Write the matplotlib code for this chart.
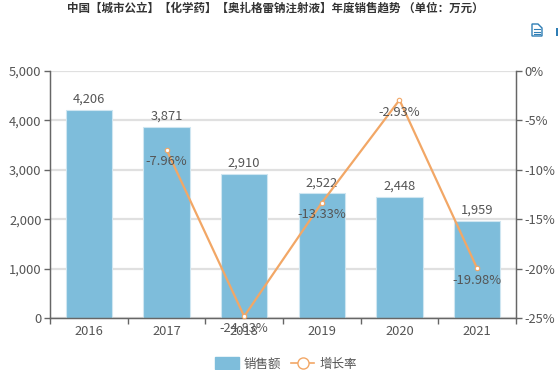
import matplotlib
matplotlib.use('Agg')
import matplotlib.pyplot as plt
from matplotlib.lines import Line2D
from matplotlib.patches import Patch, Polygon, Rectangle

plt.rcParams['font.family'] = ['Noto Sans CJK SC', 'DejaVu Sans']

years = ['2016', '2017', '2018', '2019', '2020', '2021']
sales = [4206, 3871, 2910, 2522, 2448, 1959]
growth_years = ['2017', '2018', '2019', '2020', '2021']
growth = [-7.96, -24.83, -13.33, -2.93, -19.98]
left_ticks = [0, 1000, 2000, 3000, 4000, 5000]
right_ticks = [-25, -20, -15, -10, -5, 0]
title = '中国【城市公立】【化学药】【奥扎格雷钠注射液】年度销售趋势 （单位：万元）'

W, H = 558, 370
bar_color = '#7EBDDB'
line_color = '#F2A766'
text_color = '#555555'
axis_color = '#666666'

fig = plt.figure(figsize=(W / 100, H / 100), dpi=100)
# 绘图区位置
ax = fig.add_axes([50 / W, 1 - 318 / H, 466 / W, 247 / H])
ax.bar(years, sales, width=0.6, color=bar_color, edgecolor='#CFE6F1', linewidth=0.8, zorder=2)
ax.set_xlim(-0.5, 5.5)
ax.set_ylim(0, 5000)
ax.set_yticks(left_ticks)
ax.set_yticklabels([f'{v:,}' for v in left_ticks])
ax.yaxis.grid(True, color='#E0E0E0', linewidth=1.6, zorder=0)
ax.set_axisbelow(True)
# x轴刻度放在类目之间
ax.set_xticks([i - 0.5 for i in range(len(years) + 1)])
ax.set_xticklabels([])
ax.set_xticks(range(len(years)), labels=years, minor=True)
ax.tick_params(axis='x', which='minor', length=0, labelsize=9.3, labelcolor=text_color, pad=5)
ax.tick_params(axis='x', which='major', length=4, width=1, color=axis_color)
ax.tick_params(axis='y', length=4, width=1, color=axis_color, labelsize=9.3, labelcolor=text_color, pad=2)
for s in ['left', 'right', 'bottom']:
    ax.spines[s].set_color(axis_color)
    ax.spines[s].set_linewidth(1)
ax.spines['top'].set_visible(False)
for i, v in enumerate(sales):
    ax.annotate(f'{v:,}', (i, v), xytext=(0, 3), textcoords='offset points',
                ha='center', va='bottom', fontsize=9.3, color=text_color, zorder=6)

ax2 = ax.twinx()
ax2.set_ylim(-25, 0)
ax2.set_yticks(right_ticks)
ax2.set_yticklabels([f'{v}%' for v in right_ticks])
ax2.tick_params(axis='y', length=4, width=1, color=axis_color, labelsize=9.3, labelcolor=text_color, pad=2)
for s in ['left', 'right', 'bottom']:
    ax2.spines[s].set_color(axis_color)
ax2.spines['top'].set_visible(False)
xpos = [years.index(y) for y in growth_years]
ax2.plot(xpos, growth, color=line_color, linewidth=1.6, marker='o', markersize=3.2,
         markerfacecolor='white', markeredgecolor=line_color, markeredgewidth=0.8,
         clip_on=False, zorder=5)
for x, y in zip(xpos, growth):
    ax2.annotate(f'{y}%', (x, y), xytext=(0, -4), textcoords='offset points',
                 ha='center', va='top', fontsize=9.3, color=text_color, zorder=6,
                 annotation_clip=False)

fig.text(275 / W, 1 - 8.5 / H, title, ha='center', va='center', fontsize=8.3,
         fontweight='bold', color='#333333')

# 图例
handles = [Patch(facecolor=bar_color, edgecolor=bar_color),
           Line2D([0], [0], color=line_color, linewidth=1.2, marker='o', markersize=8,
                  markerfacecolor='white', markeredgecolor=line_color)]
fig.legend(handles, ['销售额', '增长率'], loc='center', bbox_to_anchor=(286 / W, 1 - 364 / H),
           ncol=2, frameon=False, fontsize=9, labelcolor=text_color, handlelength=1.85,
           handleheight=1.1, columnspacing=0.8, handletextpad=0.4, borderpad=0)

# 右上角工具图标
icon = '#2F7EB5'
fig.add_artist(Polygon([(532 / W, 1 - 24 / H), (538 / W, 1 - 24 / H), (542 / W, 1 - 28 / H),
                        (542 / W, 1 - 36 / H), (532 / W, 1 - 36 / H)], closed=True,
                       fill=False, edgecolor=icon, linewidth=1, transform=fig.transFigure))
for yy in [29, 31.5, 34]:
    fig.add_artist(Line2D([534 / W, 540 / W], [1 - yy / H, 1 - yy / H], color=icon,
                          linewidth=0.8, transform=fig.transFigure))
fig.add_artist(Rectangle((556 / W, 1 - 36 / H), 2 / W, 8 / H, facecolor=icon, edgecolor='none',
                         transform=fig.transFigure))

fig.savefig('out.png', dpi=100)
